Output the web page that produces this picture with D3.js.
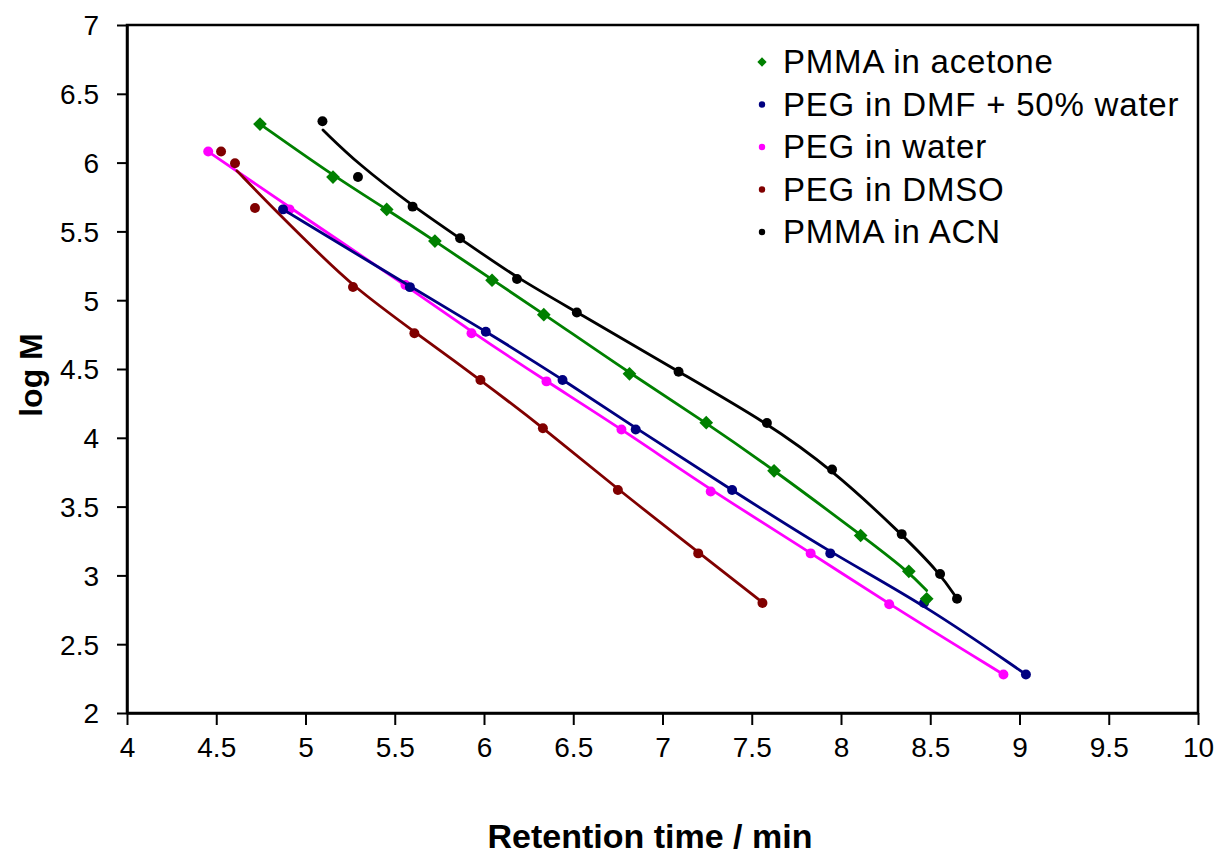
<!DOCTYPE html>
<html>
<head>
<meta charset="utf-8">
<script src="https://cdn.jsdelivr.net/npm/d3@7"></script>
<style>
  html, body { margin: 0; padding: 0; background: #fff; }
  svg { display: block; }
  text { font-family: "Liberation Sans", Arial, sans-serif; fill: #000; }
</style>
</head>
<body>
<svg id="chart" width="1221" height="856"></svg>
<script>
// ---- data ----
const xTickValues = [4, 4.5, 5, 5.5, 6, 6.5, 7, 7.5, 8, 8.5, 9, 9.5, 10];
const yTickValues = [2, 2.5, 3, 3.5, 4, 4.5, 5, 5.5, 6, 6.5, 7];
const seriesNames = ["PMMA in acetone", "PEG in DMF + 50% water", "PEG in water", "PEG in DMSO", "PMMA in ACN"];
const seriesColors = ["#008000", "#000080", "#ff00ff", "#800000", "#000000"];

// measured points (markers)
const acetonePoints = [[4.745,6.28],[5.154,5.895],[5.455,5.66],[5.725,5.43],[6.045,5.145],[6.335,4.895],[6.815,4.465],[7.245,4.11],[7.625,3.76],[8.11,3.29],[8.38,3.03],[8.48,2.83]];
const dmfPoints = [[4.874,5.66],[5.585,5.095],[6.01,4.77],[6.44,4.42],[6.85,4.06],[7.39,3.62],[7.94,3.16],[8.465,2.80],[9.036,2.28]];
const waterPoints = [[4.455,6.08],[4.91,5.66],[5.56,5.11],[5.93,4.76],[6.35,4.41],[6.77,4.06],[7.27,3.61],[7.83,3.16],[8.27,2.79],[8.91,2.28]];
const dmsoPoints = [[4.527,6.08],[4.605,5.995],[4.717,5.67],[5.266,5.096],[5.61,4.76],[5.98,4.42],[6.33,4.07],[6.75,3.62],[7.20,3.16],[7.56,2.80]];
const acnPoints = [[5.095,6.30],[5.294,5.895],[5.60,5.68],[5.866,5.45],[6.185,5.154],[6.52,4.91],[7.09,4.48],[7.585,4.108],[7.95,3.77],[8.34,3.30],[8.555,3.01],[8.65,2.83]];

// fitted calibration curves (as drawn in the picture)
const acetoneCurve = [[4.745,6.28],[5.154,5.905],[5.455,5.66],[5.725,5.43],[6.045,5.15],[6.335,4.9],[6.815,4.47],[7.245,4.11],[7.625,3.765],[8.11,3.295],[8.38,3.025],[8.48,2.89]];
const dmfCurve = [[4.874,5.66],[5.585,5.10],[6.01,4.775],[6.44,4.425],[6.85,4.07],[7.39,3.62],[7.94,3.165],[8.465,2.79],[9.036,2.28]];
const waterCurve = [[4.455,6.08],[4.91,5.675],[5.56,5.11],[5.93,4.77],[6.35,4.41],[6.77,4.065],[7.27,3.62],[7.83,3.165],[8.27,2.79],[8.91,2.28]];
const dmsoCurve = [[4.616,5.94],[4.81,5.68],[5.04,5.385],[5.266,5.10],[5.61,4.77],[5.98,4.42],[6.33,4.075],[6.75,3.625],[7.20,3.17],[7.563,2.80]];
const acnCurve = [[5.098,6.237],[5.294,5.99],[5.60,5.685],[5.866,5.45],[6.185,5.16],[6.52,4.915],[7.09,4.48],[7.585,4.11],[7.95,3.77],[8.34,3.30],[8.555,3.015],[8.65,2.83]];

const seriesPoints = [acetonePoints, dmfPoints, waterPoints, dmsoPoints, acnPoints];
const seriesCurves = [acetoneCurve, dmfCurve, waterCurve, dmsoCurve, acnCurve];
const seriesSymbols = ["diamond", "circle", "circle", "circle", "circle"];
const drawOrder = [2, 1, 3, 0, 4];

// ---- layout ----
const svg = d3.select("#chart");
const plotLeft = 127, plotRight = 1198, plotTop = 25, plotBottom = 713;
const x = d3.scaleLinear().domain([4, 10]).range([plotLeft, plotRight]);
const y = d3.scaleLinear().domain([2, 7]).range([plotBottom, plotTop]);

// frame
svg.append("rect")
  .attr("x", plotLeft).attr("y", plotTop)
  .attr("width", plotRight - plotLeft).attr("height", plotBottom - plotTop)
  .attr("fill", "none").attr("stroke", "#000").attr("stroke-width", 2.5);

// axes
const fmt = d => String(d);
const gx = svg.append("g").attr("transform", `translate(0,${plotBottom})`)
  .call(d3.axisBottom(x).tickValues(xTickValues).tickFormat(fmt).tickSize(12).tickSizeOuter(0));
const gy = svg.append("g").attr("transform", `translate(${plotLeft},0)`)
  .call(d3.axisLeft(y).tickValues(yTickValues).tickFormat(fmt).tickSize(10).tickSizeOuter(0));
[gx, gy].forEach(g => {
  g.select(".domain").attr("stroke", "#000").attr("stroke-width", 2.5);
  g.selectAll(".tick line").attr("stroke", "#000").attr("stroke-width", 2);
  g.selectAll(".tick text").attr("font-size", 28).attr("font-family", "Liberation Sans, Arial, sans-serif").attr("fill", "#000");
});
gx.selectAll(".tick text").attr("y", 0).attr("dy", null).attr("transform", "translate(0,44)");
gy.selectAll(".tick text").attr("x", -28).attr("dy", "0.35em");

// axis titles
svg.append("text")
  .attr("x", 650).attr("y", 848)
  .attr("text-anchor", "middle")
  .attr("font-size", 34).attr("font-weight", "bold")
  .text("Retention time / min");
svg.append("text")
  .attr("transform", "translate(42,375) rotate(-90)")
  .attr("text-anchor", "middle")
  .attr("font-size", 32).attr("font-weight", "bold")
  .text("log M");

// curves
const line = d3.line().x(d => x(d[0])).y(d => y(d[1])).curve(d3.curveBasis);
const diamondType = d3.symbolDiamond2 || d3.symbolSquare;
const symbolFor = (name, size) => d3.symbol().type(name === "diamond" ? diamondType : d3.symbolCircle).size(size);
const rot = name => (name === "diamond" && !d3.symbolDiamond2 ? " rotate(45)" : "");

drawOrder.forEach(i => {
  svg.append("path")
    .datum(seriesCurves[i])
    .attr("d", line)
    .attr("fill", "none")
    .attr("stroke", seriesColors[i])
    .attr("stroke-width", 2.8)
    .attr("stroke-linejoin", "round")
    .attr("stroke-linecap", "round");
  svg.append("g").selectAll("path")
    .data(seriesPoints[i])
    .join("path")
    .attr("transform", d => `translate(${x(d[0])},${y(d[1])})` + rot(seriesSymbols[i]))
    .attr("d", symbolFor(seriesSymbols[i], seriesSymbols[i] === "diamond" ? 120 : 78))
    .attr("fill", seriesColors[i]);
});

// legend
const legendX = 762, legendTextX = 783, legendY0 = 62, legendStep = 42.5;
const lg = svg.append("g");
seriesNames.forEach((name, i) => {
  const cy = legendY0 + i * legendStep;
  lg.append("path")
    .attr("transform", `translate(${legendX},${cy})` + rot(seriesSymbols[i]))
    .attr("d", symbolFor(seriesSymbols[i], seriesSymbols[i] === "diamond" ? 55 : 32))
    .attr("fill", seriesColors[i]);
  lg.append("text")
    .attr("x", legendTextX).attr("y", cy + 11)
    .attr("font-size", 33)
    .attr("letter-spacing", 0.8)
    .text(name);
});
</script>
</body>
</html>
